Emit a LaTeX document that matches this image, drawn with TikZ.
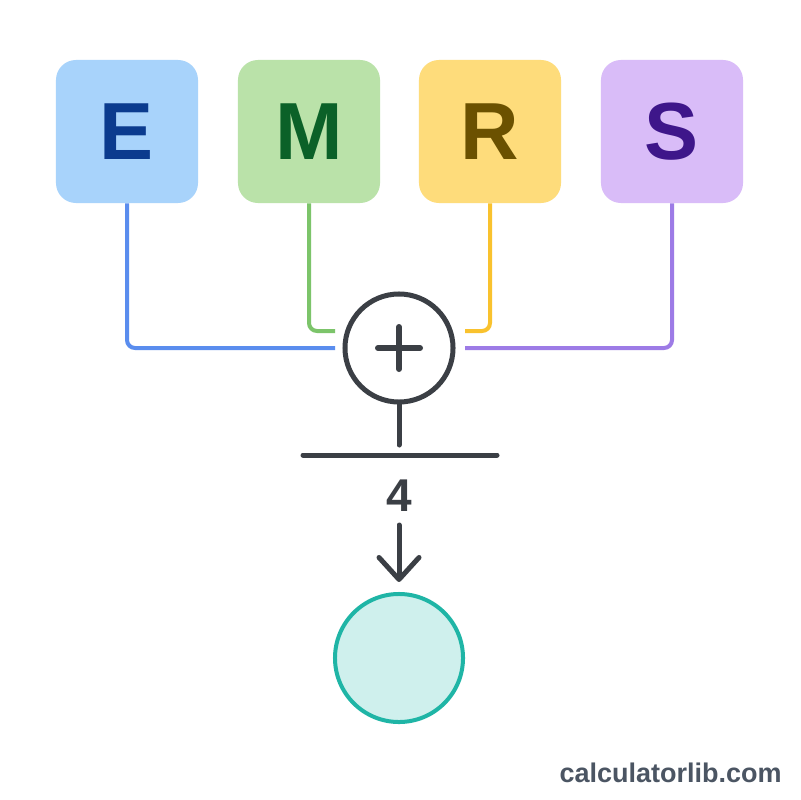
\documentclass[tikz,border=0pt]{standalone}
\usepackage{fontspec}
\setmainfont{Liberation Sans}
\usetikzlibrary{arrows.meta, positioning}
\definecolor{boxE}{HTML}{A8D3FB}
\definecolor{boxM}{HTML}{BAE2A9}
\definecolor{boxR}{HTML}{FEDC7B}
\definecolor{boxS}{HTML}{D9BCF8}
\definecolor{letE}{HTML}{0B3B8E}
\definecolor{letM}{HTML}{0B6128}
\definecolor{letR}{HTML}{6B5100}
\definecolor{letS}{HTML}{3E168A}
\definecolor{wireE}{HTML}{5A8DEE}
\definecolor{wireM}{HTML}{7CC46A}
\definecolor{wireR}{HTML}{F9C22E}
\definecolor{wireS}{HTML}{9D7BE6}
\definecolor{ink}{HTML}{3B3F45}
\definecolor{tealD}{HTML}{1FB5A6}
\definecolor{tealL}{HTML}{CFF0ED}
\definecolor{siteGray}{HTML}{4B5563}

\begin{document}
\begin{tikzpicture}[x=0.025cm, y=-0.025cm,
  letterbox/.style={rounded corners=0.5cm, minimum width=3.55cm, minimum height=3.575cm,
    inner sep=0pt, font=\fontsize{57.6}{58}\selectfont\bfseries},
  wire/.style={line width=0.1cm, rounded corners=0.2cm},
  inkline/.style={ink, line width=0.125cm, line cap=round}]
  \fill[white] (0,0) rectangle (800,800);
  \useasboundingbox (0,0) rectangle (800,800);

  % input boxes
  \node[letterbox, fill=boxE, text=letE] (E) at (127,131.5) {E};
  \node[letterbox, fill=boxM, text=letM] (M) at (309,131.5) {M};
  \node[letterbox, fill=boxR, text=letR] (R) at (490,131.5) {R};
  \node[letterbox, fill=boxS, text=letS] (S) at (672,131.5) {S};

  % summation
  \node[circle, draw=ink, line width=0.125cm, minimum size=2.7cm, inner sep=0pt] (sum) at (399,348) {};
  \draw[inkline, line width=0.15cm] (378,348) -- (420,348);
  \draw[inkline, line width=0.15cm] (399,327) -- (399,369);

  \coordinate (inE) at (335,348);
  \coordinate (inM) at (335,331);
  \coordinate (inR) at (465,331);
  \coordinate (inS) at (465,348);
  \draw[wire, wireE] (E.south) |- (inE);
  \draw[wire, wireM] (M.south) |- (inM);
  \draw[wire, wireR] (R.south) |- (inR);
  \draw[wire, wireS] (S.south) |- (inS);

  % divide by 4
  \coordinate (stemEnd) at (399,445);
  \coordinate (barL) at (303,455);
  \coordinate (barR) at (497,455);
  \draw[inkline] (sum.south) -- (stemEnd);
  \draw[inkline] (barL) -- (barR);
  \node[font=\fontsize{32.7}{33}\selectfont\bfseries, text=ink, inner sep=0pt] (four) at (399,496) {4};

  % result
  \node[circle, draw=tealD, fill=tealL, line width=0.1cm, minimum size=3.2cm, inner sep=0pt] (res) at (399,658) {};
  \coordinate (arrTop) at (399,525);
  \draw[inkline, -{Straight Barb[length=0.55cm, width=1cm, round]}, shorten >=0.25cm] (arrTop) -- (res.north);

  \node[anchor=east, inner sep=0pt, font=\fontsize{19.2}{20}\selectfont\bfseries, text=siteGray] (site) at (782,773) {calculatorlib.com};
\end{tikzpicture}
\end{document}
